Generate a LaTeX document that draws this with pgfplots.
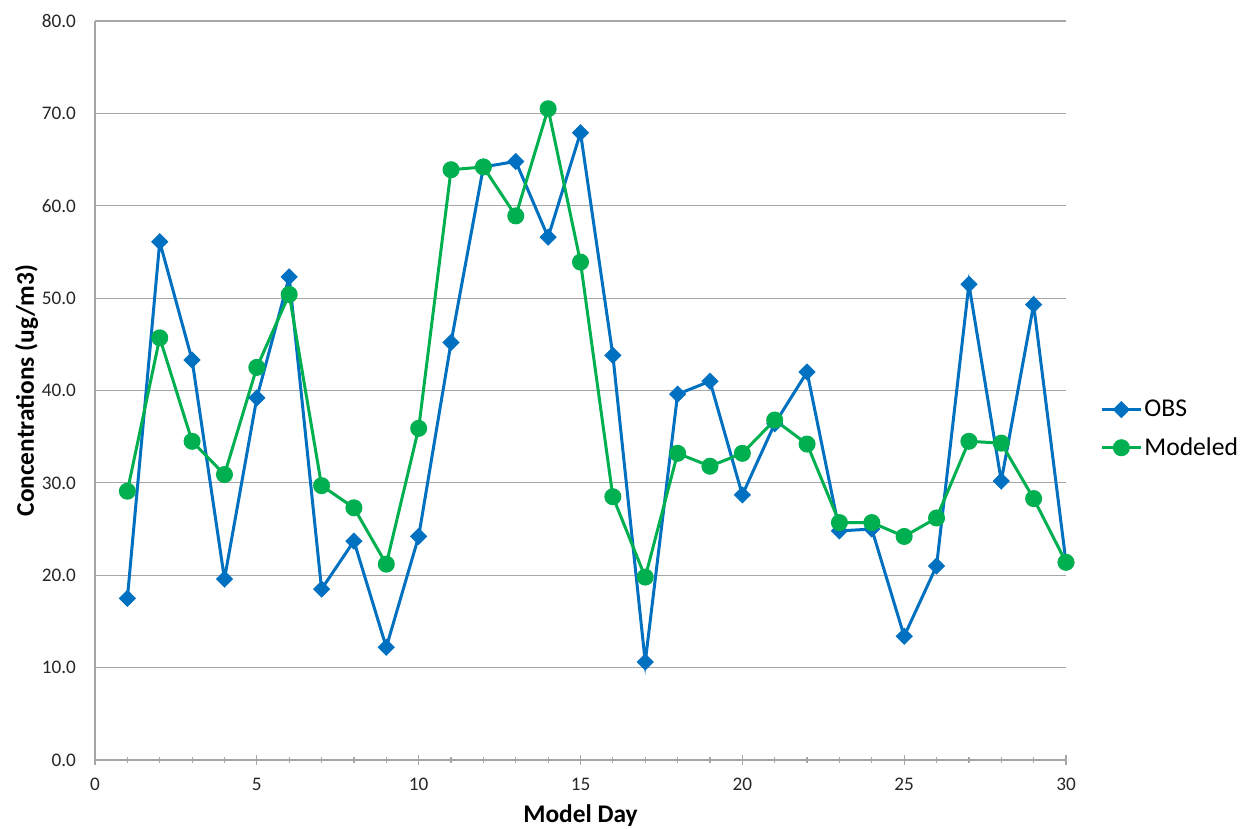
\documentclass[border=0pt]{standalone}
\usepackage{pgfplots}
\pgfplotsset{compat=1.18}
\usepackage{fontspec}
\setmainfont{Carlito}
\definecolor{obsblue}{HTML}{0070C0}
\definecolor{modgreen}{HTML}{00B050}
\definecolor{gridgray}{HTML}{A6A6A6}
\begin{document}
\begin{tikzpicture}
\path[use as bounding box] (-47.5pt,-34.5pt) rectangle (573.5pt,380pt);
\begin{axis}[
  at={(0pt,0pt)}, anchor=south west,
  scale only axis, width=485.5pt, height=369.5pt,
  xmin=0, xmax=30, ymin=0, ymax=80,
  xtick={0,5,...,30}, minor x tick num=4,
  ytick={0,10,...,80},
  axis x line*=bottom, axis y line*=left,
  axis line style={gridgray, line width=0.6pt},
  ymajorgrids, grid style={gridgray, line width=0.6pt},
  y axis line style={-}, x axis line style={-},
  xtick style={gridgray, line width=0.6pt},
  ytick style={draw=none},
  major tick length=5pt, minor tick length=3pt,
  xtick align=center,
  /pgf/number format/assume math mode=true,
  yticklabel style={/pgf/number format/.cd, fixed, fixed zerofill, precision=1, /tikz/.cd, xshift=-6pt},
  xticklabel style={yshift=-3pt},
  ticklabel style={font=\fontsize{9.6}{11}\selectfont, text=black!85},
  xlabel={\textbf{Model Day}},
  ylabel={\textbf{Concentrations (ug/m3)}},
  label style={font=\fontsize{12.7}{14}\selectfont},
  xlabel style={yshift=0pt},
  ylabel style={yshift=-5pt},
  legend style={at={(1.0,0.448)}, anchor=west, xshift=14pt, draw=none, fill=none,
    font=\fontsize{12.8}{15}\selectfont, row sep=5pt, nodes={inner xsep=1pt}},
  legend cell align=left,
  legend image code/.code={\draw[#1] (0pt,0pt) -- (19.5pt,0pt); \draw[#1, mark repeat=2, mark phase=2] plot coordinates {(0pt,0pt) (9.75pt,0pt) (19.5pt,0pt)};},
]
\addplot[obsblue, line width=1.5pt, mark=square*, mark size=2.3pt, mark options={solid, fill=obsblue, rotate=45}] coordinates {
(1,17.5)(2,56.1)(3,43.3)(4,19.6)(5,39.2)(6,52.3)(7,18.5)(8,23.7)(9,12.2)(10,24.2)
(11,45.2)(12,64.2)(13,64.8)(14,56.6)(15,67.9)(16,43.8)(17,10.6)(18,39.6)(19,41.0)(20,28.7)
(21,36.4)(22,42.0)(23,24.8)(24,25.0)(25,13.4)(26,21.0)(27,51.5)(28,30.2)(29,49.3)(30,21.4)};
\addlegendentry{OBS}
\addplot[modgreen, line width=1.5pt, mark=*, mark size=3.5pt, mark options={solid, fill=modgreen}] coordinates {
(1,29.1)(2,45.7)(3,34.5)(4,30.9)(5,42.5)(6,50.4)(7,29.7)(8,27.3)(9,21.2)(10,35.9)
(11,63.9)(12,64.2)(13,58.9)(14,70.5)(15,53.9)(16,28.5)(17,19.8)(18,33.2)(19,31.8)(20,33.2)
(21,36.8)(22,34.2)(23,25.7)(24,25.7)(25,24.2)(26,26.2)(27,34.5)(28,34.3)(29,28.3)(30,21.4)};
\addlegendentry{Modeled}
\end{axis}
\end{tikzpicture}
\end{document}
